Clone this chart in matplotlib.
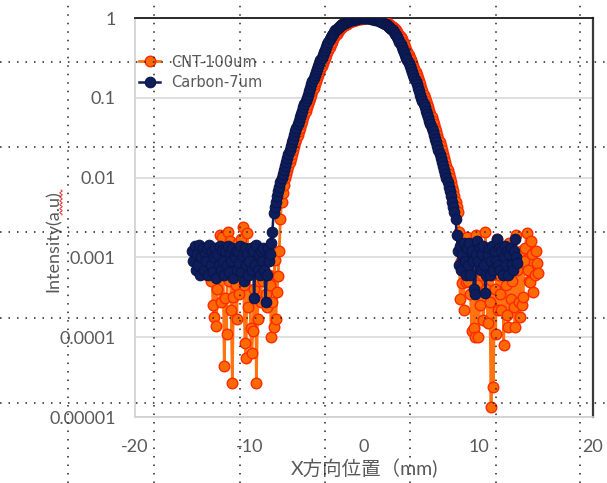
import numpy as np
import matplotlib
matplotlib.use("Agg")
import matplotlib.pyplot as plt
from matplotlib.lines import Line2D

plt.rcParams['font.family'] = ['Lato', 'Noto Sans CJK JP', 'DejaVu Sans']
plt.rcParams['axes.unicode_minus'] = False

# ---- Carbon-7um: noise floor left, main peak, noise floor right ----
carbon_x_left = [
    -15.0, -14.9, -14.8, -14.7, -14.6, -14.5, -14.4, -14.3, -14.2, -14.1,
    -14.0, -13.9, -13.8, -13.7, -13.6, -13.5, -13.4, -13.3, -13.2, -13.1,
    -13.0, -12.9, -12.8, -12.7, -12.6, -12.5, -12.4, -12.3, -12.2, -12.1,
    -12.0, -11.9, -11.8, -11.7, -11.6, -11.5, -11.4, -11.3, -11.2, -11.1,
    -11.0, -10.9, -10.8, -10.7, -10.6, -10.5, -10.4, -10.3, -10.2, -10.1,
    -10.0, -9.9, -9.8, -9.7, -9.6, -9.5, -9.4, -9.3, -9.2, -9.1,
    -9.0, -8.9, -8.8, -8.7, -8.6, -8.5, -8.4, -8.3, -8.2, -8.1,
]
carbon_y_left = [
    0.0012, 0.0009, 0.0014, 0.0007, 0.0011, 0.0008, 0.00145, 0.0006, 0.001, 0.0013,
    0.0007, 0.0011, 0.0009, 0.0013, 0.0006, 0.00145, 0.0008, 0.0012, 0.00065, 0.001,
    0.0013, 0.00055, 0.0011, 0.0008, 0.0014, 0.0007, 0.00125, 0.0009, 0.0006, 0.0012,
    0.0008, 0.0014, 0.00065, 0.0011, 0.0009, 0.0013, 0.00055, 0.001, 0.0012, 0.0007,
    0.0012, 0.00085, 0.0014, 0.00065, 0.00105, 0.0005, 0.0013, 0.0008, 0.0011, 0.0006,
    0.0009, 0.0013, 0.0007, 0.0012, 0.00031, 0.0008, 0.00145, 0.0007, 0.0011, 0.0006,
    0.0012, 0.0009, 0.0013, 0.0007, 0.00028, 0.0006, 0.0013, 0.0009, 0.0011, 0.0015,
]
carbon_x_peak = [
    -8.0, -7.9, -7.8, -7.7, -7.6, -7.5, -7.4, -7.3, -7.2, -7.1,
    -7.0, -6.9, -6.8, -6.7, -6.6, -6.5, -6.4, -6.3, -6.2, -6.1,
    -6.0, -5.9, -5.8, -5.7, -5.6, -5.5, -5.4, -5.3, -5.2, -5.1,
    -5.0, -4.9, -4.8, -4.7, -4.6, -4.5, -4.4, -4.3, -4.2, -4.1,
    -4.0, -3.9, -3.8, -3.7, -3.6, -3.5, -3.4, -3.3, -3.2, -3.1,
    -3.0, -2.9, -2.8, -2.7, -2.6, -2.5, -2.4, -2.3, -2.2, -2.1,
    -2.0, -1.9, -1.8, -1.7, -1.6, -1.5, -1.4, -1.3, -1.2, -1.1,
    -1.0, -0.9, -0.8, -0.7, -0.6, -0.5, -0.4, -0.3, -0.2, -0.1,
    0.0,
    0.1, 0.2, 0.3, 0.4, 0.5, 0.6, 0.7, 0.8, 0.9, 1.0,
    1.1, 1.2, 1.3, 1.4, 1.5, 1.6, 1.7, 1.8, 1.9, 2.0,
    2.1, 2.2, 2.3, 2.4, 2.5, 2.6, 2.7, 2.8, 2.9, 3.0,
    3.1, 3.2, 3.3, 3.4, 3.5, 3.6, 3.7, 3.8, 3.9, 4.0,
    4.1, 4.2, 4.3, 4.4, 4.5, 4.6, 4.7, 4.8, 4.9, 5.0,
    5.1, 5.2, 5.3, 5.4, 5.5, 5.6, 5.7, 5.8, 5.9, 6.0,
    6.1, 6.2, 6.3, 6.4, 6.5, 6.6, 6.7, 6.8, 6.9, 7.0,
    7.1, 7.2, 7.3, 7.4, 7.5, 7.6, 7.7, 7.8, 7.9, 8.0,
]
carbon_y_peak = [
    0.0021, 0.0036, 0.0043, 0.0050, 0.0058, 0.0068, 0.0077, 0.0087, 0.0098, 0.0111,
    0.0126, 0.0141, 0.0158, 0.0178, 0.0200, 0.0224, 0.0249, 0.0277, 0.0308, 0.0342,
    0.0380, 0.0421, 0.0466, 0.0515, 0.0570, 0.0631, 0.0692, 0.0759, 0.0832, 0.0912,
    0.100, 0.110, 0.121, 0.134, 0.147, 0.162, 0.177, 0.193, 0.211, 0.230,
    0.251, 0.272, 0.294, 0.318, 0.344, 0.372, 0.401, 0.433, 0.467, 0.504,
    0.543, 0.573, 0.604, 0.637, 0.671, 0.708, 0.729, 0.751, 0.774, 0.798,
    0.822, 0.838, 0.853, 0.869, 0.885, 0.902, 0.912, 0.923, 0.933, 0.944,
    0.955, 0.964, 0.971, 0.977, 0.984, 0.989, 0.993, 0.995, 0.998, 1.0,
    1.0,
    1.0, 0.998, 0.995, 0.993, 0.989, 0.984, 0.977, 0.971, 0.964, 0.955,
    0.944, 0.933, 0.923, 0.912, 0.902, 0.885, 0.869, 0.853, 0.838, 0.822,
    0.798, 0.774, 0.751, 0.729, 0.708, 0.671, 0.637, 0.604, 0.573, 0.543,
    0.504, 0.467, 0.433, 0.401, 0.372, 0.344, 0.318, 0.294, 0.272, 0.251,
    0.230, 0.211, 0.193, 0.177, 0.162, 0.147, 0.134, 0.121, 0.110, 0.100,
    0.0912, 0.0832, 0.0759, 0.0692, 0.0631, 0.0570, 0.0515, 0.0466, 0.0421, 0.0380,
    0.0342, 0.0308, 0.0277, 0.0249, 0.0224, 0.0200, 0.0178, 0.0158, 0.0141, 0.0126,
    0.0111, 0.0098, 0.0087, 0.0077, 0.0068, 0.0058, 0.0050, 0.0043, 0.0037, 0.0030,
]
carbon_x_right = [
    8.1, 8.2, 8.3, 8.4, 8.5, 8.6, 8.7, 8.8, 8.9, 9.0,
    9.1, 9.2, 9.3, 9.4, 9.5, 9.6, 9.7, 9.8, 9.9, 10.0,
    10.1, 10.2, 10.3, 10.4, 10.5, 10.6, 10.7, 10.8, 10.9, 11.0,
    11.1, 11.2, 11.3, 11.4, 11.5, 11.6, 11.7, 11.8, 11.9, 12.0,
    12.1, 12.2, 12.3, 12.4, 12.5, 12.6, 12.7, 12.8, 12.9, 13.0,
    13.1, 13.2, 13.3, 13.4,
]
carbon_y_right = [
    0.0019, 0.0012, 0.0008, 0.0014, 0.0007, 0.0011, 0.0015, 0.0009, 0.0006, 0.0013,
    0.0008, 0.0015, 0.0006, 0.0012, 0.0009, 0.0004, 0.00035, 0.0011, 0.0016, 0.0009,
    0.0013, 0.0007, 0.0011, 0.0014, 0.0008, 0.00036, 0.0006, 0.0011, 0.0013, 0.0006,
    0.0009, 0.0014, 0.0007, 0.0012, 0.0009, 0.0017, 0.0008, 0.0013, 0.0007, 0.0012,
    0.0006, 0.001, 0.0014, 0.0008, 0.0012, 0.0006, 0.0011, 0.0013, 0.0008, 0.0007,
    0.0012, 0.0017, 0.001, 0.00085,
]

# ---- CNT-100um ----
cnt_x_left = [
    -14.5, -14.4, -14.3, -14.2, -14.1, -14.0, -13.9, -13.8, -13.7, -13.6,
    -13.5, -13.4, -13.3, -13.2, -13.1, -13.0, -12.9, -12.8, -12.7, -12.6,
    -12.5, -12.4, -12.3, -12.2, -12.1, -12.0, -11.9, -11.8, -11.7, -11.6,
    -11.5, -11.4, -11.3, -11.2, -11.1, -11.0, -10.9, -10.8, -10.7, -10.6,
    -10.5, -10.4, -10.3, -10.2, -10.1, -10.0, -9.9, -9.8, -9.7, -9.6,
    -9.5, -9.4, -9.3, -9.2, -9.1, -9.0, -8.9, -8.8, -8.7, -8.6,
    -8.5, -8.4, -8.3, -8.2, -8.1, -8.0, -7.9, -7.8, -7.7, -7.6,
    -7.5, -7.4,
]
cnt_y_left = [
    0.0011, 0.0008, 0.0012, 0.0009, 0.0013, 0.0007, 0.0011, 0.0009, 0.0006, 0.0012,
    0.0008, 0.0005, 0.0011, 0.00025, 0.00018, 0.0009, 0.00014, 0.0004, 0.0013, 0.0019,
    0.00028, 0.0018, 0.0006, 0.000043, 0.00031, 0.00011, 0.0021, 0.0005, 0.0016, 0.00022,
    0.000027, 0.00032, 0.0012, 0.00045, 0.00017, 0.0015, 0.00035, 0.0009, 0.0017, 0.0024,
    0.00045, 0.000085, 0.000055, 0.002, 0.00024, 0.0006, 0.00013, 0.000063, 0.00012, 0.0004,
    0.0014, 0.000027, 0.00017, 0.0005, 0.0008, 0.00028, 0.0012, 0.0005, 0.0011, 0.00035,
    0.00024, 0.0009, 0.0006, 0.00045, 0.0001, 0.00028, 0.000135, 0.00093, 0.00017, 0.00037,
    0.00059, 0.0012,
]
cnt_x_peak = [
    -7.3, -7.2, -7.1, -7.0, -6.9, -6.8, -6.7, -6.6, -6.5, -6.4,
    -6.3, -6.2, -6.1, -6.0, -5.9, -5.8, -5.7, -5.6, -5.5, -5.4,
    -5.3, -5.2, -5.1, -5.0, -4.9, -4.8, -4.7, -4.6, -4.5, -4.4,
    -4.3, -4.2, -4.1, -4.0, -3.9, -3.8, -3.7, -3.6, -3.5, -3.4,
    -3.3, -3.2, -3.1, -3.0, -2.9, -2.8, -2.7, -2.6, -2.5, -2.4,
    -2.3, -2.2, -2.1, -2.0, -1.9, -1.8, -1.7, -1.6, -1.5, -1.4,
    -1.3, -1.2, -1.1, -1.0, -0.9, -0.8, -0.7, -0.6, -0.5, -0.4,
    -0.3, -0.2, -0.1, 0.0, 0.1, 0.2, 0.3, 0.4, 0.5, 0.6,
    0.7, 0.8, 0.9, 1.0, 1.1, 1.2, 1.3, 1.4, 1.5, 1.6,
    1.7, 1.8, 1.9, 2.0, 2.1, 2.2, 2.3, 2.4, 2.5, 2.6,
    2.7, 2.8, 2.9, 3.0, 3.1, 3.2, 3.3, 3.4, 3.5, 3.6,
    3.7, 3.8, 3.9, 4.0, 4.1, 4.2, 4.3, 4.4, 4.5, 4.6,
    4.7, 4.8, 4.9, 5.0, 5.1, 5.2, 5.3, 5.4, 5.5, 5.6,
    5.7, 5.8, 5.9, 6.0, 6.1, 6.2, 6.3, 6.4, 6.5, 6.6,
    6.7, 6.8, 6.9, 7.0, 7.1, 7.2, 7.3, 7.4, 7.5, 7.6,
    7.7, 7.8, 7.9, 8.0, 8.1, 8.2,
]
cnt_y_peak = [
    0.0030, 0.0050, 0.0064, 0.0080, 0.0098, 0.0111, 0.0126, 0.0141, 0.0158, 0.0178,
    0.0200, 0.0224, 0.0249, 0.0277, 0.0308, 0.0342, 0.0380, 0.0421, 0.0466, 0.0515,
    0.0570, 0.0631, 0.0692, 0.0759, 0.0832, 0.0912, 0.100, 0.110, 0.121, 0.134,
    0.147, 0.162, 0.177, 0.193, 0.211, 0.230, 0.251, 0.272, 0.294, 0.318,
    0.344, 0.372, 0.401, 0.433, 0.467, 0.504, 0.543, 0.573, 0.604, 0.637,
    0.671, 0.708, 0.729, 0.751, 0.774, 0.798, 0.822, 0.838, 0.853, 0.869,
    0.885, 0.902, 0.912, 0.923, 0.933, 0.944, 0.955, 0.964, 0.971, 0.977,
    0.984, 0.989, 0.993, 0.995, 0.998, 1.0, 1.0, 1.0, 0.998, 0.995,
    0.993, 0.989, 0.984, 0.977, 0.971, 0.964, 0.955, 0.944, 0.933, 0.923,
    0.912, 0.902, 0.885, 0.869, 0.853, 0.838, 0.822, 0.798, 0.774, 0.751,
    0.729, 0.708, 0.671, 0.637, 0.604, 0.573, 0.543, 0.504, 0.467, 0.433,
    0.401, 0.372, 0.344, 0.318, 0.294, 0.272, 0.251, 0.230, 0.211, 0.193,
    0.177, 0.162, 0.147, 0.134, 0.121, 0.110, 0.100, 0.0912, 0.0832, 0.0759,
    0.0692, 0.0631, 0.0570, 0.0515, 0.0466, 0.0421, 0.0380, 0.0342, 0.0308, 0.0277,
    0.0249, 0.0224, 0.0200, 0.0178, 0.0158, 0.0141, 0.0126, 0.0111, 0.0098, 0.0087,
    0.0077, 0.0068, 0.0058, 0.0050, 0.0043, 0.0037,
]
cnt_x_right = [
    8.3, 8.4, 8.5, 8.6, 8.7, 8.8, 8.9, 9.0, 9.1, 9.2,
    9.3, 9.4, 9.5, 9.6, 9.7, 9.8, 9.9, 10.0, 10.1, 10.2,
    10.3, 10.4, 10.5, 10.6, 10.7, 10.8, 10.9, 11.0, 11.1, 11.2,
    11.3, 11.4, 11.5, 11.6, 11.7, 11.8, 11.9, 12.0, 12.1, 12.2,
    12.3, 12.4, 12.5, 12.6, 12.7, 12.8, 12.9, 13.0, 13.1, 13.2,
    13.3, 13.4, 13.5, 13.6, 13.7, 13.8, 13.9, 14.0, 14.1, 14.2,
    14.3, 14.4, 14.5, 14.6, 14.7, 14.8, 14.9, 15.0, 15.1, 15.2,
]
cnt_y_right = [
    0.0021, 0.0003, 0.0009, 0.00048, 0.00022, 0.0014, 0.00049, 0.0018, 0.0005, 0.0011,
    0.00035, 0.000118, 0.0008, 0.00013, 0.0001, 0.0019, 0.00045, 0.0001, 0.00025, 0.0012,
    0.0006, 0.000166, 0.00038, 0.0021, 0.0004, 0.00015, 0.0009, 0.00028, 0.0000135, 0.0006,
    0.000024, 0.0004, 0.00011, 0.0017, 0.00022, 0.0006, 0.00035, 0.00022, 0.0011, 0.00008,
    0.0012, 0.00045, 0.00019, 0.000135, 0.0015, 0.0003, 0.0005, 0.0009, 0.00024, 0.000135,
    0.0019, 0.0007, 0.00028, 0.00018, 0.0012, 0.00025, 0.00032, 0.0009, 0.0013, 0.002,
    0.0007, 0.0005, 0.00049, 0.0016, 0.0011, 0.00037, 0.0006, 0.0012, 0.00085, 0.00063,
]

x_ticks = [-20, -10, 0, 10, 20]
y_ticks = [1e-5, 1e-4, 1e-3, 1e-2, 1e-1, 1]
y_tick_labels = ['0.00001', '0.0001', '0.001', '0.01', '0.1', '1']

carbon_x = carbon_x_left + carbon_x_peak + carbon_x_right
carbon_y = carbon_y_left + carbon_y_peak + carbon_y_right
cnt_x = cnt_x_left + cnt_x_peak + cnt_x_right
cnt_y = cnt_y_left + cnt_y_peak + cnt_y_right

grey = '#595959'

fig = plt.figure(figsize=(6.07, 4.83), dpi=100)
ax = fig.add_axes([0.2224, 0.1366, 0.7545, 0.8261])

ax.plot(cnt_x, cnt_y, color='#FF7410', lw=2.0, marker='o', ms=7.6,
        mfc='#FF6A00', mec='#FF2A00', mew=1.0, label='CNT-100um', zorder=3)
ax.plot(carbon_x, carbon_y, color='#0E1D5C', lw=1.8, marker='o', ms=7.6,
        mfc='#0E1D5C', mec='#0A1648', mew=0.8, label='Carbon-7um', zorder=4)

ax.set_yscale('log')
ax.set_xlim(-20, 20)
ax.set_ylim(1e-5, 1)
ax.set_xticks(x_ticks)
ax.set_xticklabels([str(t) for t in x_ticks])
ax.set_yticks(y_ticks)
ax.set_yticklabels(y_tick_labels)
ax.yaxis.set_minor_locator(matplotlib.ticker.NullLocator())
ax.tick_params(axis='both', length=0, labelsize=13, labelcolor=grey)
ax.tick_params(axis='y', pad=14)
ax.tick_params(axis='x', pad=16)

ax.yaxis.grid(True, color='#D9D9D9', lw=1.2)
ax.set_axisbelow(True)
for side in ['left', 'bottom']:
    ax.spines[side].set_color('#D0D0D0')
    ax.spines[side].set_linewidth(1.2)
ax.spines['top'].set_color('#1A1A1A')
ax.spines['top'].set_linewidth(1.3)
ax.spines['right'].set_color('#3A3A3A')
ax.spines['right'].set_linewidth(1.6)

ax.set_xlabel('X方向位置（mm)', fontsize=14, color=grey)
ax.xaxis.label.set_va('center')
ax.xaxis.set_label_coords(0.502, -0.130)
ax.set_ylabel('Intensity(a.u)', fontsize=13, color=grey)
ax.yaxis.label.set_va('center')
ax.yaxis.set_label_coords(-0.179, 0.441)

leg = ax.legend(loc='upper left', bbox_to_anchor=(0.0087, 0.9085), frameon=False,
                prop={'family': 'DejaVu Sans', 'size': 10.5},
                handlelength=1.45, handletextpad=0.75,
                labelspacing=0.4, borderpad=0, borderaxespad=0)
for t in leg.get_texts():
    t.set_color(grey)

# spell-check squiggle under "a.u"
W, H = 607, 483
sy = np.linspace(190, 215, 40)
sx = 61 + 1.2 * np.sin((sy - 190) * 1.6)
fig.add_artist(Line2D(sx / W, (H - sy) / H, color='#E03030', lw=0.7,
                      transform=fig.transFigure))

# dotted layout guides drawn over the whole figure
for gx in [68, 154, 239.5, 325, 410, 495.5, 580]:
    fig.add_artist(Line2D([gx / W, gx / W], [0, 1], color='#222222', lw=1.1,
                          linestyle=(0, (1, 4.56)), transform=fig.transFigure,
                          zorder=10))
for gy in [62, 147, 232, 318, 403]:
    fig.add_artist(Line2D([0, 1], [(H - gy) / H, (H - gy) / H], color='#222222',
                          lw=1.1, linestyle=(0, (1, 4.56)),
                          transform=fig.transFigure, zorder=10))

fig.savefig('out.png', dpi=100)
